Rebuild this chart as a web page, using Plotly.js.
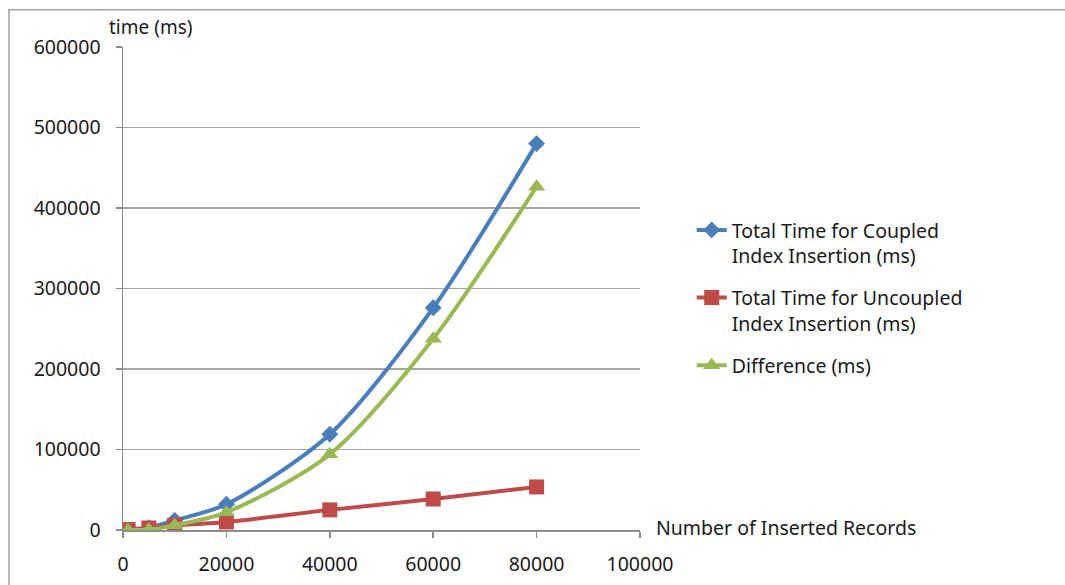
<!DOCTYPE html>
<html>
<head>
<meta charset="utf-8">
<script src="https://cdn.plot.ly/plotly-3.0.1.min.js"></script>
<style>
  html, body { margin: 0; padding: 0; background: #ffffff; }
  #chart { width: 1065px; height: 585px; }
</style>
</head>
<body>
<div id="chart"></div>
<script>
// Number of inserted records
const records = [1000, 5000, 10000, 20000, 40000, 60000, 80000];

// Timings in milliseconds
const coupledTime   = [500, 3000, 12000, 32000, 119000, 276000, 480000];
const uncoupledTime = [500, 2500, 6000, 10000, 25000, 38500, 53500];
const differenceTime = [0, 500, 6000, 22000, 94000, 237500, 426500];

const seriesNames = [
  'Total Time for Coupled<br>Index Insertion (ms)',
  'Total Time for Uncoupled<br>Index Insertion (ms)',
  'Difference (ms)'
];

const xTicks = [0, 20000, 40000, 60000, 80000, 100000];
const yTicks = [0, 100000, 200000, 300000, 400000, 500000, 600000];

const FONT = 'Noto Sans, Open Sans, sans-serif';
const FS = 19.5;
const GRID = '#a6a6a6';

const traces = [
  {
    x: records, y: coupledTime, name: seriesNames[0], legendgroup: 'coupled',
    mode: 'lines+markers', type: 'scatter',
    line: { color: '#4a7ebb', width: 4, shape: 'spline', smoothing: 0.8 },
    marker: { symbol: 'diamond', size: 13, color: '#4a7ebb' }
  },
  {
    x: records, y: uncoupledTime, name: seriesNames[1], legendgroup: 'uncoupled',
    mode: 'lines+markers', type: 'scatter',
    line: { color: '#be4b48', width: 4, shape: 'spline', smoothing: 0.8 },
    marker: { symbol: 'square', size: 15, color: '#be4b48' }
  },
  {
    x: records, y: differenceTime, name: seriesNames[2], legendgroup: 'difference',
    mode: 'lines+markers', type: 'scatter',
    line: { color: '#98b954', width: 4, shape: 'spline', smoothing: 0.8 },
    marker: { symbol: 'triangle-up', size: 15, color: '#98b954' }
  }
];

const layout = {
  width: 1065, height: 585,
  margin: { l: 123, r: 425, t: 47, b: 55 },
  paper_bgcolor: '#ffffff', plot_bgcolor: '#ffffff',
  font: { family: FONT, size: FS, color: '#1a1a1a' },
  showlegend: true,
  legend: {
    x: 1.1, xanchor: 'left', y: 0.661, yanchor: 'top',
    valign: 'top', font: { family: FONT, size: FS, color: '#1a1a1a' },
    tracegroupgap: 14, itemwidth: 30, bgcolor: 'rgba(0,0,0,0)'
  },
  xaxis: {
    range: [0, 100000], tickvals: xTicks, ticktext: xTicks.map(String),
    showgrid: false, zeroline: false,
    showline: true, linecolor: '#8c8c8c', linewidth: 1.5,
    ticks: 'outside', ticklen: 6, tickcolor: '#8c8c8c', tickwidth: 1.5,
    ticklabelstandoff: 10,
    tickfont: { family: FONT, size: FS, color: '#1a1a1a' },
    fixedrange: true
  },
  yaxis: {
    range: [0, 600000], tickvals: yTicks, ticktext: yTicks.map(String),
    showgrid: true, gridcolor: GRID, gridwidth: 1.5, zeroline: false,
    showline: true, linecolor: '#8c8c8c', linewidth: 1.5,
    ticks: 'outside', ticklen: 6, tickcolor: '#8c8c8c', tickwidth: 1.5,
    ticklabelstandoff: 11,
    tickfont: { family: FONT, size: FS, color: '#1a1a1a' },
    fixedrange: true
  },
  annotations: [
    {
      text: 'time (ms)', xref: 'paper', yref: 'paper',
      x: -0.03, y: 1.0, xanchor: 'left', yanchor: 'bottom', yshift: 5,
      showarrow: false, font: { family: FONT, size: 19, color: '#1a1a1a' }
    },
    {
      text: 'Number of Inserted Records', xref: 'paper', yref: 'paper',
      x: 1.0, y: 0, xanchor: 'left', yanchor: 'middle', xshift: 14, yshift: 3,
      showarrow: false, font: { family: FONT, size: 19.5, color: '#1a1a1a' }
    }
  ],
  shapes: [
    {
      type: 'rect', xref: 'paper', yref: 'paper', layer: 'below',
      x0: -0.2205, x1: 1.9, y0: -0.2, y1: 1.077,
      line: { color: '#a0a0a0', width: 1.5 }, fillcolor: 'rgba(0,0,0,0)'
    }
  ]
};

Plotly.newPlot('chart', traces, layout, { displayModeBar: false, staticPlot: true });
</script>
</body>
</html>
